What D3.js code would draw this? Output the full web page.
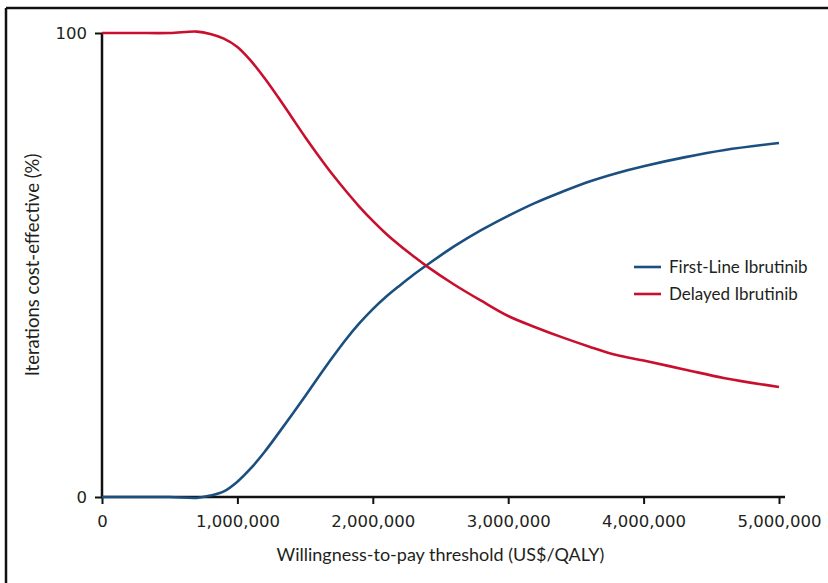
<!DOCTYPE html>
<html>
<head>
<meta charset="utf-8">
<script src="https://cdn.jsdelivr.net/npm/d3@7"></script>
<style>
  body { margin: 0; background: #fff; }
  svg text { fill: #231f20; }
</style>
</head>
<body>
<div id="chart"></div>
<script>
// willingness-to-pay thresholds (US$ millions per QALY)
const wtp = [0, 0.25, 0.5, 0.7, 0.8, 0.9, 1.0, 1.1, 1.2, 1.3, 1.4, 1.5, 1.6, 1.7, 1.8, 1.9, 2.0, 2.1, 2.2, 2.3, 2.4, 2.6, 2.8, 3.0, 3.2, 3.4, 3.6, 3.8, 4.0, 4.3, 4.6, 5.0];
const firstLine = [0, 0, 0, -0.2, 0.3, 1.2, 3.3, 6.2, 9.7, 13.6, 17.6, 21.7, 25.9, 30, 33.9, 37.4, 40.5, 43.2, 45.6, 47.9, 50, 54, 57.5, 60.6, 63.4, 65.8, 68, 69.8, 71.3, 73.2, 74.8, 76.3];
const delayed = [100, 100, 100, 100.3, 99.8, 98.8, 97, 94, 90.3, 86.2, 81.9, 77.6, 73.5, 69.6, 66, 62.6, 59.5, 56.7, 54.2, 51.9, 49.7, 45.8, 42.3, 39, 36.6, 34.4, 32.4, 30.6, 29.4, 27.5, 25.6, 23.7];

const seriesNames = ["First-Line Ibrutinib", "Delayed Ibrutinib"];
const seriesColors = ["#1b4f80", "#c8102e"];
const xTicks = [0, 1, 2, 3, 4, 5];
const yTicks = [0, 100];

const W = 828, H = 583;
const margin = { top: 33, right: 49, bottom: 86, left: 102 };
const width = W - margin.left - margin.right;
const height = H - margin.top - margin.bottom;

const svg = d3.select("#chart").append("svg")
  .attr("width", W)
  .attr("height", H);

// outer frame (left and top edges visible)
svg.append("line").attr("x1", 6).attr("x2", 6).attr("y1", 8).attr("y2", H)
  .attr("stroke", "#111").attr("stroke-width", 2.5);
svg.append("line").attr("x1", 6).attr("x2", W).attr("y1", 8).attr("y2", 8)
  .attr("stroke", "#111").attr("stroke-width", 2.5);

const g = svg.append("g").attr("transform", `translate(${margin.left},${margin.top})`);

const x = d3.scaleLinear().domain([0, 5]).range([0, width]);
const y = d3.scaleLinear().domain([0, 100]).range([height, 0]);

const line = d3.line()
  .x(d => x(d[0]))
  .y(d => y(d[1]))
  .curve(d3.curveCatmullRom.alpha(0.5));

const series = [
  { name: seriesNames[0], color: seriesColors[0], pts: wtp.map((w, i) => [w, firstLine[i]]) },
  { name: seriesNames[1], color: seriesColors[1], pts: wtp.map((w, i) => [w, delayed[i]]) }
];

// axes
const xAxis = g.append("g")
  .attr("transform", `translate(0,${height})`)
  .call(d3.axisBottom(x).tickValues(xTicks).tickSize(7).tickPadding(11)
    .tickFormat(d => d3.format(",")(d * 1e6)));
const yAxis = g.append("g")
  .call(d3.axisLeft(y).tickValues(yTicks).tickSize(7).tickPadding(8));

[xAxis, yAxis].forEach(a => {
  a.select(".domain").remove();
  a.selectAll(".tick line").attr("stroke", "#111").attr("stroke-width", 2);
  a.selectAll(".tick text")
    .style("font-family", "'DejaVu Sans', Verdana, sans-serif")
    .style("font-size", "16.5px")
    .attr("fill", "#231f20");
});

g.append("line").attr("x1", -1).attr("x2", width + 6).attr("y1", height).attr("y2", height)
  .attr("stroke", "#111").attr("stroke-width", 2.5);
g.append("line").attr("x1", 0).attr("x2", 0).attr("y1", 0).attr("y2", height + 1)
  .attr("stroke", "#111").attr("stroke-width", 2.5);

// curves
g.selectAll(".series").data(series).enter()
  .append("path")
  .attr("class", "series")
  .attr("fill", "none")
  .attr("stroke", d => d.color)
  .attr("stroke-width", 2.6)
  .attr("d", d => line(d.pts));

// legend
const legend = svg.append("g").attr("transform", "translate(634,267)");
series.forEach((s, i) => {
  const row = legend.append("g").attr("transform", `translate(0,${i * 27})`);
  row.append("line").attr("x1", 0).attr("x2", 27).attr("y1", 0).attr("y2", 0)
    .attr("stroke", s.color).attr("stroke-width", 2.6);
  row.append("text").attr("x", 35).attr("y", 0).attr("dy", "0.35em")
    .style("font-family", "Lato, sans-serif").style("font-size", "17px")
    .text(s.name);
});

// axis titles
svg.append("text")
  .attr("x", margin.left + width / 2).attr("y", 561)
  .attr("text-anchor", "middle")
  .style("font-family", "Lato, sans-serif").style("font-size", "18px")
  .text("Willingness-to-pay threshold (US$/QALY)");

svg.append("text")
  .attr("transform", `translate(39,${margin.top + height / 2}) rotate(-90)`)
  .attr("text-anchor", "middle")
  .style("font-family", "Lato, sans-serif").style("font-size", "18.5px")
  .text("Iterations cost-effective (%)");
</script>
</body>
</html>
